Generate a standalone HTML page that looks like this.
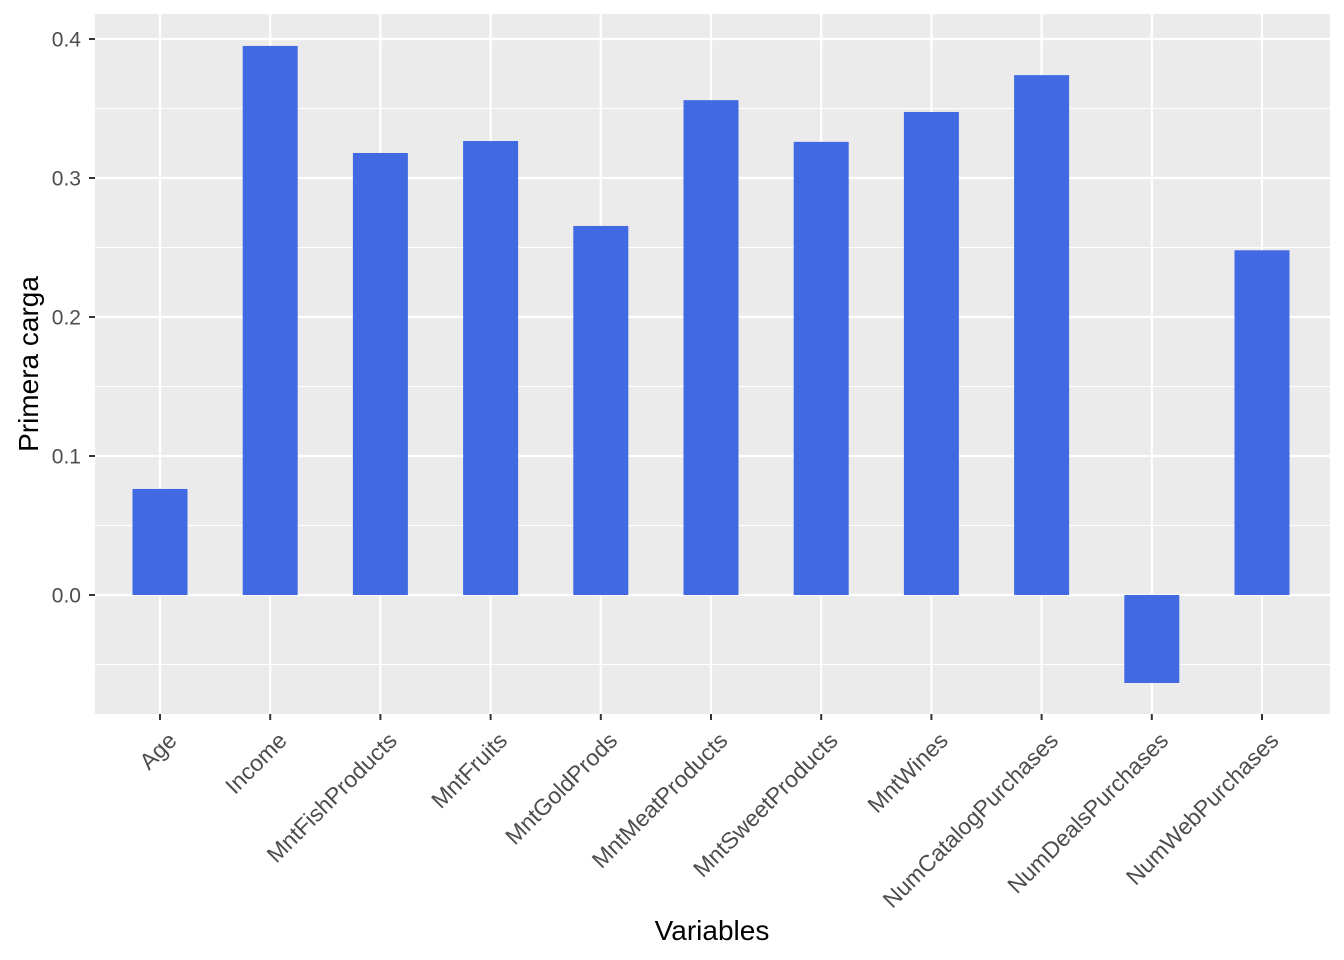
<!DOCTYPE html>
<html><head><meta charset="utf-8"><style>
body{margin:0;background:#fff}
svg{display:block;font-family:"Liberation Sans",Arial,sans-serif}
</style></head><body>
<svg id="chart" width="1344" height="960" viewBox="0 0 1344 960" xmlns="http://www.w3.org/2000/svg">
<rect x="95" y="14" width="1235" height="700" fill="#ebebeb"/>
<g id="grid"></g><g id="bars"></g><g id="axes"></g>
<text x="712" y="940" font-size="28" text-anchor="middle" fill="#000">Variables</text>
<text transform="translate(38,364) rotate(-90)" font-size="28" text-anchor="middle" fill="#000">Primera carga</text>
</svg>
<script>
const categories=["Age","Income","MntFishProducts","MntFruits","MntGoldProds","MntMeatProducts","MntSweetProducts","MntWines","NumCatalogPurchases","NumDealsPurchases","NumWebPurchases"];
const values=[0.0763,0.395,0.318,0.3266,0.2655,0.356,0.326,0.3475,0.374,-0.0633,0.248];
const yTicks=[0,0.1,0.2,0.3,0.4];
const yTickLabels=["0.0","0.1","0.2","0.3","0.4"];
const yMinor=[-0.05,0.05,0.15,0.25,0.35];
const NS="http://www.w3.org/2000/svg";
const y=v=>595-v*1390;
const x=i=>160+i*110.2;
const bw=55;
function mk(tag,attrs,parent){const e=document.createElementNS(NS,tag);for(const k in attrs)e.setAttribute(k,attrs[k]);document.getElementById(parent).appendChild(e);return e;}
yMinor.forEach(v=>{const l=mk('line',{x1:95,x2:1330,y1:y(v),y2:y(v),stroke:'#fff','stroke-width':1.1},'grid');

});
yTicks.forEach((v,i)=>{const l=mk('line',{x1:95,x2:1330,y1:y(v),y2:y(v),stroke:'#fff','stroke-width':2.2},'grid');


const t=mk('line',{x1:89,x2:95,y1:y(v),y2:y(v),stroke:'#333','stroke-width':2},'axes');


const tx=mk('text',{x:81,y:y(v)+7.5,'font-size':21,'text-anchor':'end',fill:'#4d4d4d'},'axes');tx.textContent=yTickLabels[i];

});
categories.forEach((c,i)=>{const cx=x(i);
const g=mk('line',{x1:cx,x2:cx,y1:14,y2:714,stroke:'#fff','stroke-width':2.2},'grid');


const v=values[i];
const b=mk('rect',{x:cx-bw/2,y:Math.min(y(v),y(0)),width:bw,height:Math.abs(y(v)-y(0)),fill:'#4169e1'},'bars');


const t=mk('line',{x1:cx,x2:cx,y1:714,y2:720,stroke:'#333','stroke-width':2},'axes');


const tx=mk('text',{transform:`translate(${cx+18},${742}) rotate(-45)`,'font-size':23,'text-anchor':'end',fill:'#4d4d4d'},'axes');tx.textContent=c;

});
</script>
</body></html>
